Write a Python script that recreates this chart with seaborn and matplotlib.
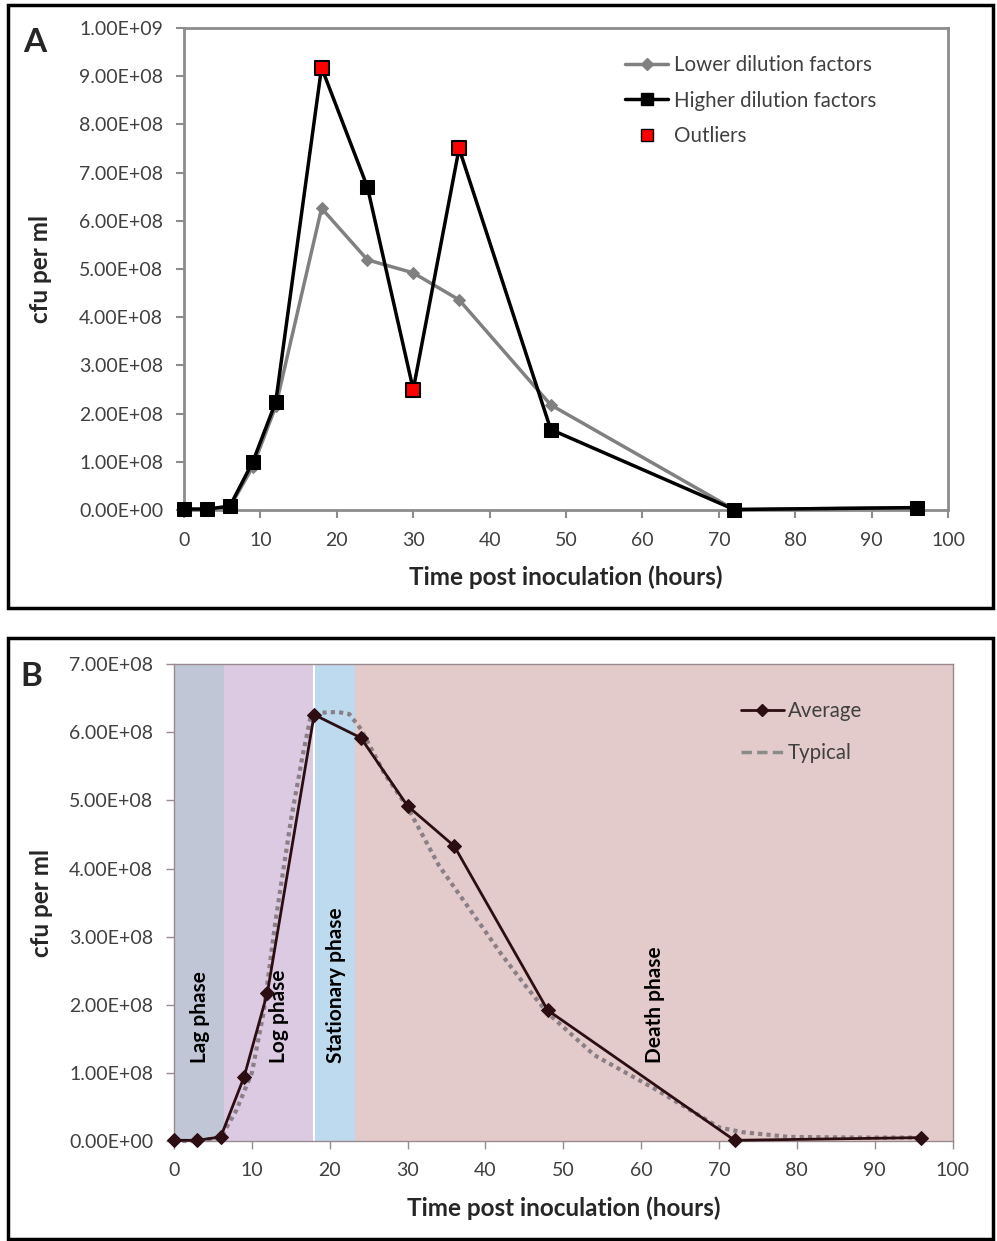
import seaborn as sns
import matplotlib.pyplot as plt
from matplotlib.patches import Rectangle
from matplotlib.lines import Line2D
from matplotlib.ticker import FuncFormatter, MultipleLocator

# time points (hours)
hours = [0, 3, 6, 9, 12, 18, 24, 30, 36, 48, 72, 96]

# panel A
lower_dilution = [1e6, 1e6, 6e6, 9.0e7, 2.15e8, 6.26e8, 5.19e8, 4.92e8, 4.36e8, 2.18e8, 1e6, 5e6]
higher_dilution = [2e6, 2e6, 8e6, 1.0e8, 2.24e8, 9.18e8, 6.70e8, 2.50e8, 7.50e8, 1.67e8, 1e6, 5e6]
outlier_hours = [18, 30, 36]
outlier_values = [9.18e8, 2.50e8, 7.50e8]

# panel B
average = [1e6, 1e6, 6e6, 9.4e7, 2.18e8, 6.26e8, 5.92e8, 4.92e8, 4.33e8, 1.92e8, 1e6, 5e6]
typical_hours = [0, 3, 6, 8, 10, 11.5, 13, 15, 16.5, 17.5, 19, 21, 22.5, 24, 27, 30, 34, 38,
                 42, 45, 48, 54, 62, 70, 73, 79, 88, 96]
typical = [0.0, 0.0, 0.05e8, 0.45e8, 1.0e8, 1.88e8, 3.2e8, 4.7e8, 5.65e8, 6.2e8, 6.29e8, 6.3e8,
           6.27e8, 6.05e8, 5.4e8, 4.9e8, 4.05e8, 3.4e8, 2.75e8, 2.3e8, 1.88e8, 1.26e8, 0.75e8,
           0.2e8, 0.13e8, 0.06e8, 0.05e8, 0.05e8]
phase_names = ['Lag phase', 'Log phase', 'Stationary phase', 'Death phase']
phase_edges = [0, 6.4, 18, 23.2, 100]
phase_colors = ['#C0C6D6', '#DCCAE3', '#BDDAEE', '#E4CBCB']
phase_label_x = [3.3, 13.5, 20.8, 61.8]

sns.set_style('white')
plt.rcParams['font.family'] = ['Lato', 'DejaVu Sans']

fig = plt.figure(figsize=(9.97, 12.41), dpi=100)
sci = FuncFormatter(lambda v, p: f'{v:.2E}')
tick_col = '#404040'

# ---------------- panel A ----------------
axA = fig.add_axes([0.1846, 0.58904, 0.7663, 0.3884])
sns.lineplot(x=hours, y=lower_dilution, ax=axA, color='#808080', lw=2.5, marker='D',
             markersize=6, markeredgecolor='#808080', clip_on=False, zorder=3)
sns.lineplot(x=hours, y=higher_dilution, ax=axA, color='black', lw=2.5, marker='s',
             markersize=10, markeredgecolor='black', clip_on=False, zorder=4)
sns.scatterplot(x=outlier_hours, y=outlier_values, ax=axA, color='#FF0000', marker='s',
                s=100, edgecolor='black', linewidth=1.5, zorder=5)
axA.set_xlim(0, 100)
axA.set_ylim(0, 1e9)
axA.xaxis.set_major_locator(MultipleLocator(10))
axA.yaxis.set_major_locator(MultipleLocator(1e8))
axA.yaxis.set_major_formatter(sci)
for s in axA.spines.values():
    s.set_color('#8C8C8C')
    s.set_linewidth(2)
axA.tick_params(axis='both', direction='out', length=6, width=1.5, color='#8C8C8C',
                labelsize=14, labelcolor=tick_col, pad=10, left=True, bottom=True)
axA.tick_params(axis='y', pad=9)
axA.set_xlabel('Time post inoculation (hours)', fontsize=17.5, weight='bold')
axA.set_ylabel('cfu per ml', fontsize=17.5, weight='bold')
axA.xaxis.set_label_coords(0.5, -0.139)
axA.xaxis.label.set_va('center')
axA.yaxis.set_label_coords(-0.188, 0.5)
axA.yaxis.label.set_va('center')
legA = [
    Line2D([], [], color='#808080', lw=2.5, marker='D', markersize=6),
    Line2D([], [], color='black', lw=2.5, marker='s', markersize=9),
    Line2D([], [], color='none', marker='s', markersize=9, markerfacecolor='#FF0000',
           markeredgecolor='black'),
]
axA.legend(legA, ['Lower dilution factors', 'Higher dilution factors', 'Outliers'],
           loc='upper left', bbox_to_anchor=(0.553, 0.982), frameon=False, fontsize=14.8,
           handlelength=2.1, handletextpad=0.3, labelspacing=0.75, labelcolor=tick_col)

# ---------------- panel B ----------------
axB = fig.add_axes([0.17452, 0.08058, 0.7809, 0.38413])
for i in range(len(phase_names)):
    axB.axvspan(phase_edges[i], phase_edges[i + 1], color=phase_colors[i], lw=0, zorder=0)
axB.axvline(phase_edges[2], color='white', lw=1.5, zorder=1)
sns.lineplot(x=typical_hours, y=typical, ax=axB, color='#8A7F86', lw=3,
             linestyle=(0, (1, 1)), clip_on=False, zorder=3)
sns.lineplot(x=hours, y=average, ax=axB, color='#2B0D12', lw=2, marker='D',
             markersize=7, markeredgecolor='#2B0D12', clip_on=False, zorder=4)
for name, px in zip(phase_names, phase_label_x):
    axB.text(px, 1.15e8, name, rotation=90, ha='center', va='bottom', fontsize=15,
             weight='bold', color='black', zorder=5)
axB.set_xlim(0, 100)
axB.set_ylim(0, 7e8)
axB.xaxis.set_major_locator(MultipleLocator(10))
axB.yaxis.set_major_locator(MultipleLocator(1e8))
axB.yaxis.set_major_formatter(sci)
for s in axB.spines.values():
    s.set_color('#9A8A90')
    s.set_linewidth(1)
axB.tick_params(axis='both', direction='out', length=6, width=1, color='#9A8A90',
                labelsize=14, labelcolor=tick_col, pad=9, left=True, bottom=True)
axB.set_xlabel('Time post inoculation (hours)', fontsize=17.5, weight='bold')
axB.set_ylabel('cfu per ml', fontsize=17.5, weight='bold')
axB.xaxis.set_label_coords(0.5, -0.1406)
axB.xaxis.label.set_va('center')
axB.yaxis.set_label_coords(-0.170, 0.5)
axB.yaxis.label.set_va('center')
legB = [
    Line2D([], [], color='#2B0D12', lw=2, marker='D', markersize=6),
    Line2D([], [], color='#8A8A8A', lw=2.5, linestyle=(0, (3, 1.5))),
]
axB.legend(legB, ['Average', 'Typical'], loc='upper left', bbox_to_anchor=(0.704, 0.961),
           frameon=False, fontsize=14.8, handlelength=2.1, handletextpad=0.2,
           labelspacing=1.05, labelcolor=tick_col)

# outer frames and panel letters
fig.add_artist(Rectangle((8 / 997, 1 - 608 / 1241), 985 / 997, 603 / 1241,
                         transform=fig.transFigure, fill=False, lw=2.5, ec='black'))
fig.add_artist(Rectangle((8 / 997, 1 - 1239 / 1241), 985 / 997, 601 / 1241,
                         transform=fig.transFigure, fill=False, lw=2.5, ec='black'))
fig.text(35 / 997, 1 - 42 / 1241, 'A', fontsize=24, weight='bold', ha='center', va='center')
fig.text(31 / 997, 1 - 677 / 1241, 'B', fontsize=24, weight='bold', ha='center', va='center')

fig.savefig('out.png', dpi=100)
